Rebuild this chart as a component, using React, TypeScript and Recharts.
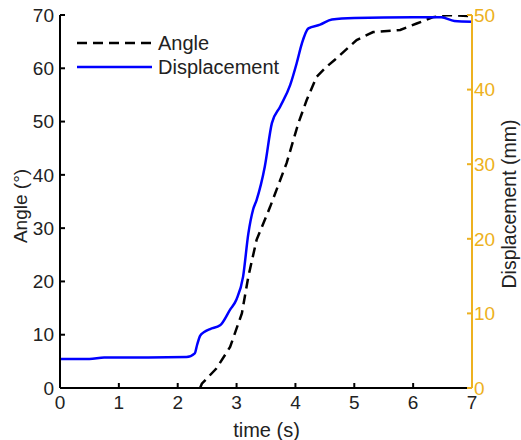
import React from 'react';
import { ComposedChart, Line, XAxis, YAxis, Legend } from 'recharts';

const dispTime = [0, 0.5, 0.75, 1.5, 2.15, 2.29, 2.33, 2.38, 2.45, 2.55, 2.72, 2.89, 3.0, 3.11, 3.2, 3.28, 3.34, 3.48, 3.6, 3.74, 3.91, 4.02, 4.11, 4.22, 4.42, 4.62, 5.0, 6.0, 6.48, 6.7, 7.0];
const dispValues = [3.9, 3.9, 4.1, 4.1, 4.15, 4.65, 5.8, 7.0, 7.5, 7.9, 8.4, 10.5, 11.9, 14.9, 20.7, 23.9, 25.2, 29.7, 35.5, 37.7, 40.6, 43.5, 46.2, 48.2, 48.7, 49.4, 49.6, 49.7, 49.7, 49.2, 49.1];

const angleTime = [2.38, 2.41, 2.66, 2.89, 3.09, 3.2, 3.34, 3.57, 3.85, 4.05, 4.19, 4.36, 4.53, 4.67, 5.04, 5.32, 5.78, 6.06, 6.34, 6.6, 7.0];
const angleValues = [0, 0.8, 3.7, 7.7, 14.0, 20.9, 27.8, 34.0, 42.2, 49.7, 54.0, 58.4, 60.3, 61.6, 65.3, 66.8, 67.2, 68.4, 69.6, 70, 69.8];

const timeTicks = [0, 1, 2, 3, 4, 5, 6, 7];
const angleTicks = [0, 10, 20, 30, 40, 50, 60, 70];
const dispTicks = [0, 10, 20, 30, 40, 50];

const dispData = dispTime.map((t, i) => ({ t, disp: dispValues[i] }));
const angleData = angleTime.map((t, i) => ({ t, angle: angleValues[i] }));

const FONT = "'Liberation Sans', Arial, sans-serif";
const ORANGE = '#EDB120';
const BLUE = '#0000FF';

const LegendContent = () => (
  <svg width={230} height={56} style={{ display: 'block' }}>
    <line x1={7} y1={15} x2={82} y2={15} stroke="#000" strokeWidth={2.5} strokeDasharray="10 6" />
    <text x={88} y={22} fontSize={20} fontFamily={FONT} fill="#222">Angle</text>
    <line x1={7} y1={39} x2={82} y2={39} stroke={BLUE} strokeWidth={2.5} />
    <text x={88} y={46} fontSize={20} fontFamily={FONT} fill="#222">Displacement</text>
  </svg>
);

export default function App() {
  return (
    <div style={{ position: 'absolute', left: 0, top: 0, background: '#fff' }}>
      <ComposedChart width={521} height={440} margin={{ top: 15, right: 0, bottom: 0, left: 0 }}>
        <XAxis
          xAxisId="bottom"
          dataKey="t"
          type="number"
          domain={[0, 7]}
          ticks={timeTicks}
          height={52}
          tickSize={-5}
          tickMargin={13}
          axisLine={{ stroke: '#000', strokeWidth: 2 }}
          tickLine={{ stroke: '#000', strokeWidth: 2 }}
          tick={{ fill: '#222', fontSize: 19, fontFamily: FONT }}
          allowDataOverflow
          label={{
            content: () => (
              <text x={266.5} y={437} textAnchor="middle" fontSize={20} fontFamily={FONT} fill="#222">time (s)</text>
            ),
          }}
        />
        <XAxis
          xAxisId="top"
          orientation="top"
          type="number"
          domain={[0, 7]}
          ticks={timeTicks}
          height={0}
          tickSize={-5}
          axisLine={{ stroke: '#000', strokeWidth: 2 }}
          tickLine={{ stroke: '#000', strokeWidth: 2 }}
          tick={() => <g />}
        />
        <YAxis
          yAxisId="left"
          type="number"
          domain={[0, 70]}
          ticks={angleTicks}
          width={60}
          tickSize={-5}
          tickMargin={11}
          axisLine={{ stroke: '#000', strokeWidth: 2 }}
          tickLine={{ stroke: '#000', strokeWidth: 2 }}
          tick={{ fill: '#222', fontSize: 19, fontFamily: FONT }}
          allowDataOverflow
          label={{
            content: () => (
              <text x={20} y={206} transform="rotate(-90 20 206)" textAnchor="middle" dominantBaseline="central" fontSize={19} fontFamily={FONT} fill="#222">Angle (°)</text>
            ),
          }}
        />
        <YAxis
          yAxisId="right"
          orientation="right"
          type="number"
          domain={[0, 50]}
          ticks={dispTicks}
          width={49}
          tickSize={-5}
          tickMargin={7}
          axisLine={{ stroke: ORANGE, strokeWidth: 2 }}
          tickLine={{ stroke: ORANGE, strokeWidth: 2 }}
          tick={{ fill: ORANGE, fontSize: 19, fontFamily: FONT }}
          allowDataOverflow
          label={{
            content: () => (
              <text x={509} y={204} transform="rotate(-90 509 204)" textAnchor="middle" dominantBaseline="central" fontSize={19.5} fontFamily={FONT} fill="#222">Displacement (mm)</text>
            ),
          }}
        />
        <Legend
          layout="vertical"
          align="center"
          verticalAlign="middle"
          wrapperStyle={{ left: 70, top: 28, width: 230, height: 56 }}
          content={() => <LegendContent />}
        />
        <Line
          xAxisId="bottom"
          yAxisId="left"
          data={angleData}
          dataKey="angle"
          type="linear"
          stroke="#000"
          strokeWidth={2.5}
          strokeDasharray="10 6"
          dot={false}
          isAnimationActive={false}
        />
        <Line
          xAxisId="bottom"
          yAxisId="right"
          data={dispData}
          dataKey="disp"
          type="monotone"
          stroke={BLUE}
          strokeWidth={2.5}
          dot={false}
          isAnimationActive={false}
        />
      </ComposedChart>
    </div>
  );
}
